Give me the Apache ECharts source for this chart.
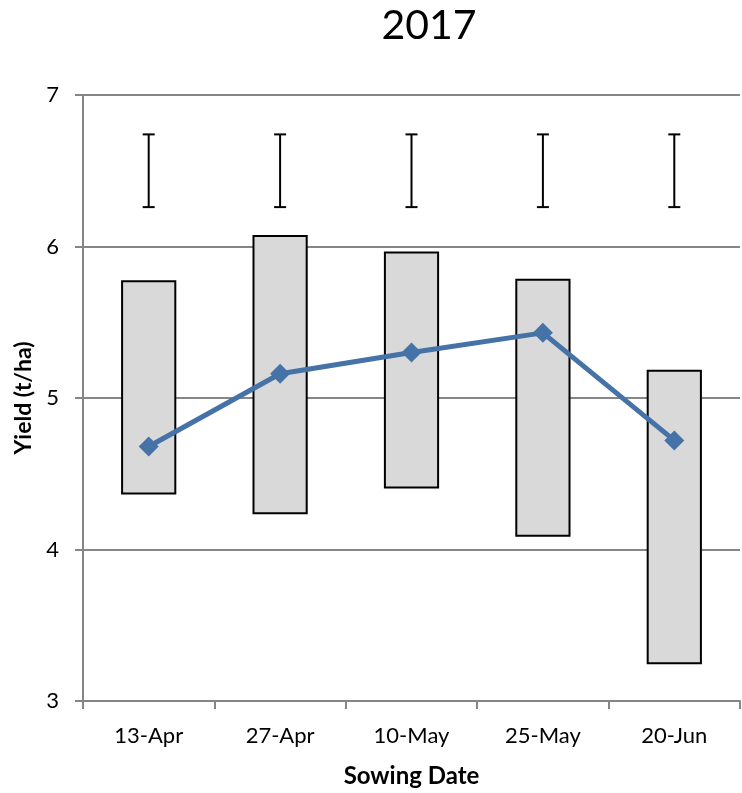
<!DOCTYPE html>
<html>
<head>
<meta charset="utf-8">
<script src="https://cdn.jsdelivr.net/npm/echarts@6/dist/echarts.min.js"></script>
<style>
  html, body { margin: 0; padding: 0; background: #fff; }
  #chart { width: 742px; height: 793px; }
</style>
</head>
<body>
<div id="chart"></div>
<script>
// Sowing dates and yield data (t/ha)
const categories = ['13-Apr', '27-Apr', '10-May', '25-May', '20-Jun'];
const rangeLow = [4.37, 4.24, 4.41, 4.09, 3.25];
const rangeHigh = [5.77, 6.07, 5.96, 5.78, 5.18];
const meanYield = [4.68, 5.16, 5.30, 5.43, 4.72];
const lsdLow = [6.26, 6.26, 6.26, 6.26, 6.26];
const lsdHigh = [6.74, 6.74, 6.74, 6.74, 6.74];
const yTicks = [3, 4, 5, 6, 7];

const FONT = 'Lato, "Open Sans", sans-serif';

const chart = echarts.init(document.getElementById('chart'), null, { renderer: 'canvas' });

const rangeData = categories.map((c, i) => [i, rangeLow[i], rangeHigh[i]]);
const lsdData = categories.map((c, i) => [i, lsdLow[i], lsdHigh[i]]);

chart.setOption({
  animation: false,
  backgroundColor: '#ffffff',
  title: {
    text: '2017',
    left: 424,
    top: 0,
    textAlign: 'center',
    textStyle: { fontFamily: FONT, fontSize: 41, fontWeight: 'normal', color: '#000' }
  },
  grid: { left: 83, right: 2, top: 95, bottom: 90 },
  xAxis: {
    type: 'category',
    data: categories,
    boundaryGap: true,
    name: 'Sowing Date',
    nameLocation: 'middle',
    nameGap: 63,
    nameTextStyle: { fontFamily: FONT, fontSize: 24, fontWeight: 'bold', color: '#000' },
    axisLine: { lineStyle: { color: '#868686', width: 2 } },
    axisTick: { show: true, length: 8, lineStyle: { color: '#868686', width: 2 } },
    axisLabel: { fontFamily: FONT, fontSize: 22, color: '#000', margin: 24 },
    splitLine: { show: false }
  },
  yAxis: {
    type: 'value',
    min: yTicks[0],
    max: yTicks[yTicks.length - 1],
    interval: 1,
    name: 'Yield (t/ha)',
    nameLocation: 'middle',
    nameGap: 41,
    nameRotate: 90,
    nameTextStyle: { fontFamily: FONT, fontSize: 23, fontWeight: 'bold', color: '#000' },
    axisLine: { show: true, lineStyle: { color: '#868686', width: 2 } },
    axisTick: { show: true, length: 8, lineStyle: { color: '#868686', width: 2 } },
    axisLabel: { fontFamily: FONT, fontSize: 22, color: '#000', margin: 24 },
    splitLine: { show: true, lineStyle: { color: '#868686', width: 2 } }
  },
  series: [
    {
      // floating bars spanning the yield range at each sowing date
      type: 'custom',
      name: 'range',
      data: rangeData,
      z: 2,
      renderItem: function (params, api) {
        const x = api.value(0);
        const lo = api.coord([x, api.value(1)]);
        const hi = api.coord([x, api.value(2)]);
        const w = api.size([1, 0])[0] * 0.405;
        return {
          type: 'rect',
          shape: { x: lo[0] - w / 2, y: hi[1], width: w, height: lo[1] - hi[1] },
          style: { fill: '#d9d9d9', stroke: '#000', lineWidth: 2 }
        };
      }
    },
    {
      // LSD error bars
      type: 'custom',
      name: 'lsd',
      data: lsdData,
      z: 3,
      renderItem: function (params, api) {
        const x = api.value(0);
        const lo = api.coord([x, api.value(1)]);
        const hi = api.coord([x, api.value(2)]);
        const cap = 6;
        const st = { stroke: '#000', lineWidth: 2 };
        return {
          type: 'group',
          children: [
            { type: 'line', shape: { x1: lo[0], y1: lo[1], x2: hi[0], y2: hi[1] }, style: st },
            { type: 'line', shape: { x1: hi[0] - cap, y1: hi[1], x2: hi[0] + cap, y2: hi[1] }, style: st },
            { type: 'line', shape: { x1: lo[0] - cap, y1: lo[1], x2: lo[0] + cap, y2: lo[1] }, style: st }
          ]
        };
      }
    },
    {
      type: 'line',
      name: 'mean',
      data: meanYield,
      z: 4,
      symbol: 'diamond',
      symbolSize: 20,
      lineStyle: { color: '#4572a7', width: 5 },
      itemStyle: { color: '#4572a7' }
    }
  ]
});
</script>
</body>
</html>
